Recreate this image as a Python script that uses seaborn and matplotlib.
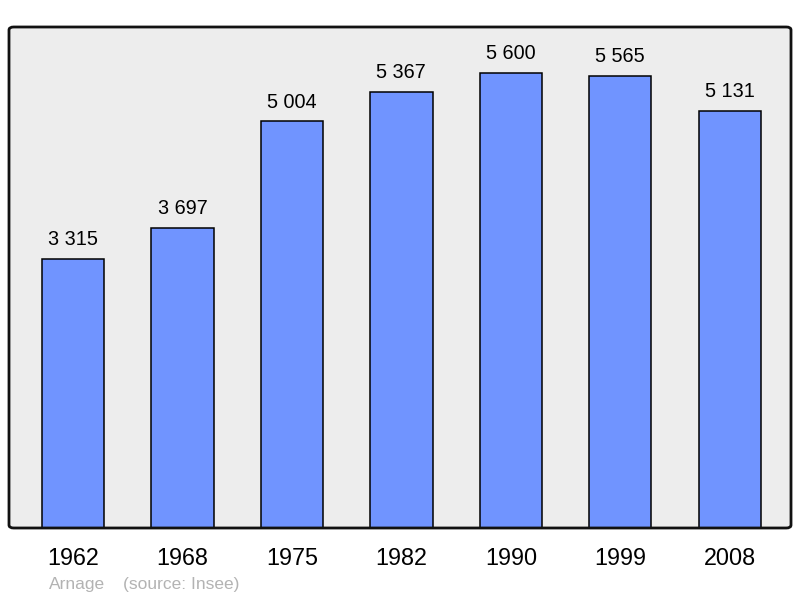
import matplotlib
matplotlib.use("Agg")
import matplotlib.pyplot as plt
import seaborn as sns
import pandas as pd
from matplotlib.patches import FancyBboxPatch

years = ["1962", "1968", "1975", "1982", "1990", "1999", "2008"]
population = [3315, 3697, 5004, 5367, 5600, 5565, 5131]
value_labels = ["3 315", "3 697", "5 004", "5 367", "5 600", "5 565", "5 131"]

df = pd.DataFrame({"year": years, "pop": population})

sns.set_style("white")
plt.rcParams["font.family"] = ["Liberation Sans", "DejaVu Sans"]
plt.rcParams["text.color"] = "black"
plt.rcParams["xtick.color"] = "black"

fig = plt.figure(figsize=(8, 5.98), dpi=100)
ax = fig.add_axes([9 / 800, 70 / 598, 782 / 800, 501 / 598])
ax.set_facecolor("#ededed")

sns.barplot(data=df, x="year", y="pop", color="#7094ff", saturation=1,
            edgecolor="black", linewidth=1.1, width=0.57, ax=ax)

ax.bar_label(ax.containers[0], labels=value_labels, padding=7, fontsize=14.3, color="black")

ax.set_xlim(-0.585, 6.56)
ax.set_ylim(0, 6166)
ax.set_xlabel("")
ax.set_ylabel("")
ax.set_yticks([])
ax.tick_params(axis="x", length=0, pad=13.5, labelsize=16.8, labelcolor="black")
for s in ax.spines.values():
    s.set_visible(False)

frame = FancyBboxPatch((0, 0), 1, 1, boxstyle="round,pad=0,rounding_size=0.006",
                       transform=ax.transAxes, facecolor="none",
                       edgecolor="#111111", linewidth=2, clip_on=False, zorder=5)
ax.add_patch(frame)

fig.text(49 / 800, 1 - 584 / 598, "Arnage", color="#b3b3b3", fontsize=12.5, va="center")
fig.text(123 / 800, 1 - 584 / 598, "(source: Insee)", color="#b3b3b3", fontsize=12.5, va="center")

fig.savefig("out.png", dpi=100)
